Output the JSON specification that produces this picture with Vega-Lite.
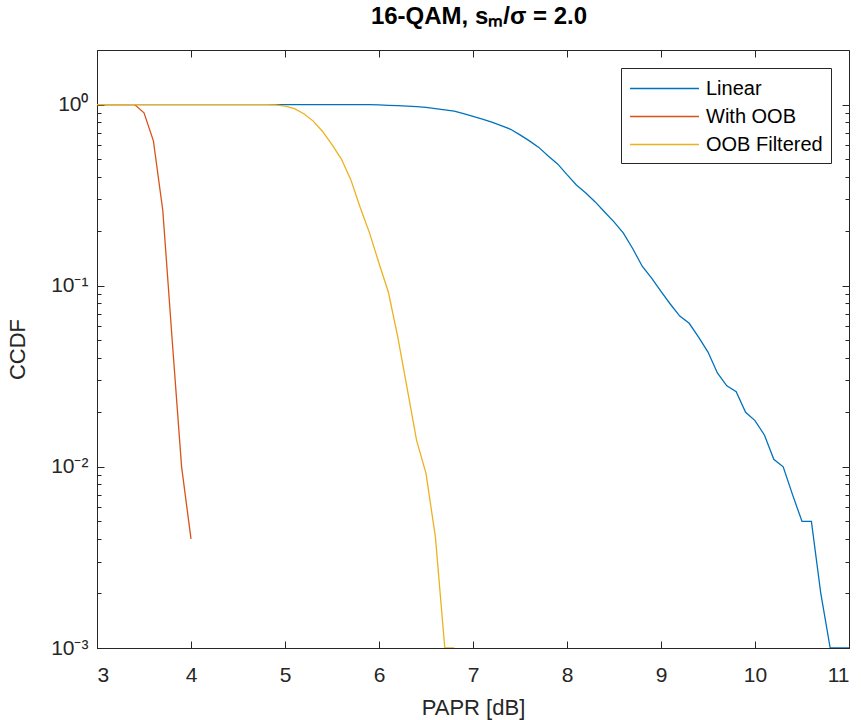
{
  "$schema": "https://vega.github.io/schema/vega-lite/v6.json",
  "width": 752,
  "height": 598,
  "autosize": "none",
  "padding": {"left": 97, "top": 50, "right": 12, "bottom": 72},
  "background": "white",
  "config": {
    "font": "Liberation Sans",
    "view": {"stroke": "#262626", "strokeWidth": 1},
    "axis": {"grid": false, "zindex": 1, "domainColor": "#262626", "labelColor": "#262626", "titleColor": "#262626", "labelFont": "Liberation Sans", "titleFont": "Liberation Sans", "labelFontSize": 21, "titleFontSize": 22, "titleFontWeight": "normal"}
  },
  "title": {"text": "16-QAM, sₘ/σ = 2.0", "fontSize": 24, "fontWeight": "bold", "font": "Liberation Sans", "color": "#000000", "anchor": "middle", "offset": 21, "dx": 6},
  "data": {"values": [
    {"s":"Linear","x":3.0,"y":1},{"s":"Linear","x":3.5,"y":1},{"s":"Linear","x":4.0,"y":1},{"s":"Linear","x":4.5,"y":1},{"s":"Linear","x":5.0,"y":1},{"s":"Linear","x":5.5,"y":1},{"s":"Linear","x":5.9,"y":1},
    {"s":"Linear","x":6.0,"y":0.995},{"s":"Linear","x":6.1,"y":0.99},{"s":"Linear","x":6.2,"y":0.985},{"s":"Linear","x":6.3,"y":0.98},{"s":"Linear","x":6.4,"y":0.975},{"s":"Linear","x":6.5,"y":0.965},{"s":"Linear","x":6.6,"y":0.95},{"s":"Linear","x":6.7,"y":0.935},{"s":"Linear","x":6.8,"y":0.92},{"s":"Linear","x":6.9,"y":0.89},
    {"s":"Linear","x":7.0,"y":0.86},{"s":"Linear","x":7.1,"y":0.83},{"s":"Linear","x":7.2,"y":0.8},{"s":"Linear","x":7.3,"y":0.765},{"s":"Linear","x":7.4,"y":0.73},{"s":"Linear","x":7.5,"y":0.68},{"s":"Linear","x":7.6,"y":0.63},{"s":"Linear","x":7.7,"y":0.58},{"s":"Linear","x":7.8,"y":0.52},{"s":"Linear","x":7.9,"y":0.47},
    {"s":"Linear","x":8.0,"y":0.41},{"s":"Linear","x":8.1,"y":0.36},{"s":"Linear","x":8.2,"y":0.325},{"s":"Linear","x":8.3,"y":0.29},{"s":"Linear","x":8.4,"y":0.255},{"s":"Linear","x":8.5,"y":0.225},{"s":"Linear","x":8.6,"y":0.195},{"s":"Linear","x":8.7,"y":0.16},{"s":"Linear","x":8.8,"y":0.128},{"s":"Linear","x":8.9,"y":0.11},
    {"s":"Linear","x":9.0,"y":0.093},{"s":"Linear","x":9.1,"y":0.079},{"s":"Linear","x":9.2,"y":0.068},{"s":"Linear","x":9.3,"y":0.062},{"s":"Linear","x":9.4,"y":0.052},{"s":"Linear","x":9.5,"y":0.043},{"s":"Linear","x":9.6,"y":0.033},{"s":"Linear","x":9.7,"y":0.028},{"s":"Linear","x":9.8,"y":0.026},{"s":"Linear","x":9.9,"y":0.02},
    {"s":"Linear","x":10.0,"y":0.018},{"s":"Linear","x":10.1,"y":0.015},{"s":"Linear","x":10.2,"y":0.011},{"s":"Linear","x":10.3,"y":0.01},{"s":"Linear","x":10.4,"y":0.007},{"s":"Linear","x":10.5,"y":0.005},{"s":"Linear","x":10.6,"y":0.005},{"s":"Linear","x":10.7,"y":0.002},{"s":"Linear","x":10.8,"y":0.001},{"s":"Linear","x":10.9,"y":0.001},{"s":"Linear","x":11.0,"y":0.001},
    {"s":"With OOB","x":3.0,"y":1},{"s":"With OOB","x":3.1,"y":1},{"s":"With OOB","x":3.2,"y":1},{"s":"With OOB","x":3.3,"y":1},{"s":"With OOB","x":3.4,"y":1},{"s":"With OOB","x":3.5,"y":0.9},{"s":"With OOB","x":3.6,"y":0.63},{"s":"With OOB","x":3.7,"y":0.26},{"s":"With OOB","x":3.8,"y":0.05},{"s":"With OOB","x":3.9,"y":0.01},{"s":"With OOB","x":4.0,"y":0.004},
    {"s":"OOB Filtered","x":3.0,"y":1},{"s":"OOB Filtered","x":3.5,"y":1},{"s":"OOB Filtered","x":4.0,"y":1},{"s":"OOB Filtered","x":4.5,"y":1},{"s":"OOB Filtered","x":4.8,"y":1},{"s":"OOB Filtered","x":4.9,"y":0.995},
    {"s":"OOB Filtered","x":5.0,"y":0.98},{"s":"OOB Filtered","x":5.1,"y":0.95},{"s":"OOB Filtered","x":5.2,"y":0.89},{"s":"OOB Filtered","x":5.3,"y":0.81},{"s":"OOB Filtered","x":5.4,"y":0.71},{"s":"OOB Filtered","x":5.5,"y":0.6},{"s":"OOB Filtered","x":5.6,"y":0.5},{"s":"OOB Filtered","x":5.7,"y":0.385},{"s":"OOB Filtered","x":5.8,"y":0.27},{"s":"OOB Filtered","x":5.9,"y":0.195},
    {"s":"OOB Filtered","x":6.0,"y":0.133},{"s":"OOB Filtered","x":6.1,"y":0.092},{"s":"OOB Filtered","x":6.2,"y":0.052},{"s":"OOB Filtered","x":6.3,"y":0.027},{"s":"OOB Filtered","x":6.4,"y":0.014},{"s":"OOB Filtered","x":6.5,"y":0.0092},{"s":"OOB Filtered","x":6.6,"y":0.0041},{"s":"OOB Filtered","x":6.7,"y":0.001},{"s":"OOB Filtered","x":6.8,"y":0.001}
  ]},
  "resolve": {"axis": {"x": "independent", "y": "independent"}},
  "layer": [
    {
      "mark": {"type": "line", "strokeWidth": 1.3, "clip": true},
      "encoding": {
        "x": {"field": "x", "type": "quantitative", "scale": {"domain": [3, 11], "nice": false, "zero": false},
              "axis": {"orient": "bottom", "values": [3,4,5,6,7,8,9,10,11], "ticks": true, "tickSize": -7, "tickColor": "#262626", "tickWidth": 1, "labelPadding": 23, "title": "PAPR [dB]", "titlePadding": 12, "format": "d"}},
        "y": {"field": "y", "type": "quantitative", "scale": {"type": "log", "domain": [0.001, 2], "nice": false},
              "axis": {"orient": "left", "values": [0.001, 0.01, 0.1, 1], "ticks": true, "tickSize": -7, "tickColor": "#262626", "tickWidth": 1, "labelPadding": 16, "labelExpr": "datum.value >= 1 ? '10⁰' : datum.value >= 0.1 ? '10⁻¹' : datum.value >= 0.01 ? '10⁻²' : '10⁻³'", "title": "CCDF", "titlePadding": 21}},
        "color": {"field": "s", "type": "nominal",
                  "scale": {"domain": ["Linear", "With OOB", "OOB Filtered"], "range": ["#0072BD", "#D95319", "#EDB120"]},
                  "legend": {"title": null, "orient": "top-right", "offset": 18, "symbolType": "M-1,0H5", "symbolSize": 529, "symbolStrokeWidth": 1.3, "labelFontSize": 20, "labelFont": "Liberation Sans", "labelColor": "#000000", "strokeColor": "#262626", "fillColor": "white", "padding": 8, "rowPadding": 5, "labelOffset": 52, "symbolOpacity": 1}}
      }
    },
    {
      "mark": {"type": "point", "opacity": 0},
      "encoding": {
        "x": {"field": "x", "type": "quantitative", "scale": {"domain": [3, 11], "nice": false, "zero": false},
              "axis": {"orient": "top", "tickSize": -7, "tickColor": "#262626", "tickWidth": 1, "values": [3,4,5,6,7,8,9,10,11], "labels": false, "title": null, "domain": false}},
        "y": {"field": "y", "type": "quantitative", "scale": {"type": "log", "domain": [0.001, 2], "nice": false},
              "axis": {"orient": "right", "tickSize": -7, "tickColor": "#262626", "tickWidth": 1, "values": [0.001, 0.01, 0.1, 1], "labels": false, "title": null, "domain": false}}
      }
    },
    {
      "mark": {"type": "point", "opacity": 0},
      "encoding": {
        "x": {"field": "x", "type": "quantitative", "scale": {"domain": [3, 11], "nice": false, "zero": false},
              "axis": {"orient": "top", "ticks": false, "labels": false, "title": null, "domain": false}},
        "y": {"field": "y", "type": "quantitative", "scale": {"type": "log", "domain": [0.001, 2], "nice": false},
              "axis": {"orient": "left", "tickSize": -4, "tickColor": "#262626", "tickWidth": 1, "values": [0.002,0.003,0.004,0.005,0.006,0.007,0.008,0.009,0.02,0.03,0.04,0.05,0.06,0.07,0.08,0.09,0.2,0.3,0.4,0.5,0.6,0.7,0.8,0.9], "labels": false, "title": null, "domain": false}}
      }
    },
    {
      "mark": {"type": "point", "opacity": 0},
      "encoding": {
        "x": {"field": "x", "type": "quantitative", "scale": {"domain": [3, 11], "nice": false, "zero": false},
              "axis": {"orient": "top", "ticks": false, "labels": false, "title": null, "domain": false}},
        "y": {"field": "y", "type": "quantitative", "scale": {"type": "log", "domain": [0.001, 2], "nice": false},
              "axis": {"orient": "right", "tickSize": -4, "tickColor": "#262626", "tickWidth": 1, "values": [0.002,0.003,0.004,0.005,0.006,0.007,0.008,0.009,0.02,0.03,0.04,0.05,0.06,0.07,0.08,0.09,0.2,0.3,0.4,0.5,0.6,0.7,0.8,0.9], "labels": false, "title": null, "domain": false}}
      }
    }
  ]
}
